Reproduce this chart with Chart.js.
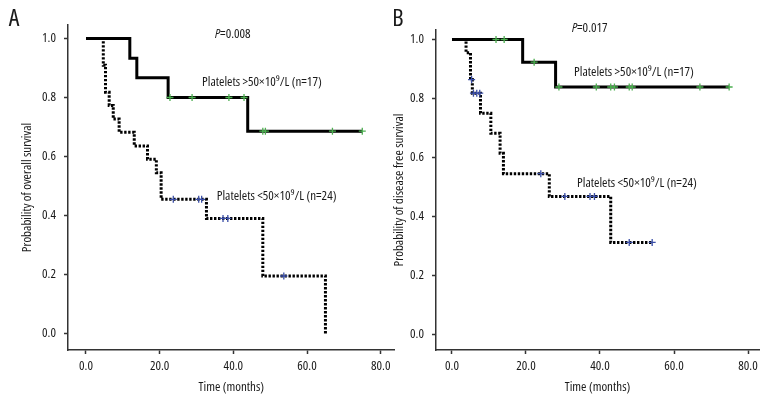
<!DOCTYPE html>
<html>
<head>
<meta charset="utf-8">
<script src="https://cdn.jsdelivr.net/npm/chart.js@4.4.0/dist/chart.umd.min.js"></script>
<style>
  body { margin: 0; background: #fff; }
  #wrap { position: relative; width: 780px; height: 420px; }
  .pane { position: absolute; top: 0; width: 400px; height: 420px; }
</style>
</head>
<body>
<div id="wrap">
  <div class="pane" style="left:0"><canvas id="chartA"></canvas></div>
  <div class="pane" style="left:380px"><canvas id="chartB"></canvas></div>
</div>
<script>
// tick labels
var xTicks = [0, 20, 40, 60, 80];
var yTicks = [0, 0.2, 0.4, 0.6, 0.8, 1.0];

// Panel A - overall survival
var aHighTimes = [0, 11.9, 13.8, 22.3, 43.9, 75.0];
var aHighSurv  = [1, 0.933, 0.867, 0.800, 0.686, 0.686];
var aHighCensT = [22.8, 28.8, 38.8, 42.9, 48.0, 48.7, 66.9, 75.0];
var aHighCensS = [0.800, 0.800, 0.800, 0.800, 0.686, 0.686, 0.686, 0.686];

var aLowTimes = [0, 4.7, 5.3, 6.3, 7.4, 9.0, 13.1, 16.7, 19.1, 20.4, 32.7, 48.0, 65.0];
var aLowSurv  = [1, 0.909, 0.818, 0.773, 0.727, 0.682, 0.636, 0.591, 0.545, 0.455, 0.390, 0.195, 0];
var aLowCensT = [23.7, 30.6, 31.4, 37.2, 38.5, 53.7];
var aLowCensS = [0.455, 0.455, 0.455, 0.390, 0.390, 0.195];

// Panel B - disease free survival
var bHighTimes = [0, 19.1, 28.0, 74.9];
var bHighSurv  = [1, 0.923, 0.839, 0.839];
var bHighCensT = [11.9, 14.1, 22.2, 28.9, 39.0, 42.9, 43.9, 47.9, 48.7, 67.0, 74.9];
var bHighCensS = [1, 1, 0.923, 0.839, 0.839, 0.839, 0.839, 0.839, 0.839, 0.839, 0.839];

var bLowTimes = [0, 3.8, 5.0, 5.5, 7.7, 10.5, 13.0, 13.9, 26.3, 42.9, 54.1];
var bLowSurv  = [1, 0.955, 0.864, 0.818, 0.750, 0.682, 0.614, 0.545, 0.468, 0.312, 0.312];
var bLowCensT = [5.3, 5.8, 6.7, 7.5, 24.0, 30.5, 37.3, 38.5, 47.9, 54.1];
var bLowCensS = [0.864, 0.818, 0.818, 0.818, 0.545, 0.468, 0.468, 0.468, 0.312, 0.312];

var FAMILY = "'Open Sans', 'Roboto Condensed', sans-serif";
var INK = '#1a1a1a';

function pts(xs, ys) {
  var out = [];
  for (var i = 0; i < xs.length; i++) out.push({x: xs[i], y: ys[i]});
  return out;
}

// draws panel letter, p-value and group labels
var labelPlugin = {
  id: 'kmLabels',
  afterDraw: function(chart) {
    var o = chart.options.plugins.kmLabels;
    var ctx = chart.ctx;
    var xs = chart.scales.x, ys = chart.scales.y;
    ctx.save();
    ctx.fillStyle = INK;
    ctx.textBaseline = 'middle';
    ctx.textAlign = 'center';
    ctx.font = "condensed 24px " + FAMILY;
    ctx.fillText(o.letter, o.letterX, 19);

    ctx.textAlign = 'left';
    var px = xs.getPixelForValue(o.pAt[0]), py = ys.getPixelForValue(o.pAt[1]);
    ctx.font = "italic condensed 13px " + FAMILY;
    ctx.fillText('P', px, py);
    var w = ctx.measureText('P').width;
    ctx.font = "condensed 13px " + FAMILY;
    ctx.fillText('=' + o.pText, px + w, py);

    o.groups.forEach(function(g) {
      ctx.fillText(g.text, xs.getPixelForValue(g.at[0]), ys.getPixelForValue(g.at[1]));
    });
    ctx.restore();
  }
};

function makeKM(id, cfg) {
  // lower order is drawn on top: censor marks, then solid curve, then dotted curve
  var datasets = [
    {type: 'scatter', order: 0, data: pts(cfg.hiCT, cfg.hiCS), pointStyle: 'cross', pointRadius: 3.5,
     pointBorderWidth: 1.3, borderColor: '#4caf50', backgroundColor: '#4caf50', showLine: false},
    {type: 'scatter', order: 0, data: pts(cfg.loCT, cfg.loCS), pointStyle: 'cross', pointRadius: 3.5,
     pointBorderWidth: 1.3, borderColor: '#3b4fa8', backgroundColor: '#3b4fa8', showLine: false},
    {order: 1, data: pts(cfg.hiT, cfg.hiS), stepped: 'before', borderColor: '#000', borderWidth: 3,
     pointRadius: 0, fill: false},
    {order: 2, data: pts(cfg.loT, cfg.loS), stepped: 'before', borderColor: '#000', borderWidth: 3,
     borderDash: [2.4, 1.6], borderCapStyle: 'butt', pointRadius: 0, fill: false}
  ];

  // weight slot carries the font-stretch keyword
  var tickFont = {family: FAMILY, size: 13, weight: 'condensed'};
  var config = {
    type: 'line',
    data: {datasets: datasets},
    options: {
      responsive: false,
      animation: false,
      layout: {padding: {left: 0, right: cfg.padRight, top: cfg.top, bottom: 0}},
      plugins: {
        legend: {display: false},
        tooltip: {enabled: false},
        kmLabels: cfg.labels
      },
      scales: {
        x: {
          type: 'linear',
          min: cfg.xMin, max: cfg.xMax,
          afterBuildTicks: function(s) { s.ticks = xTicks.map(function(v) { return {value: v}; }); },
          afterFit: function(s) { s.height = 70; },
          grid: {drawOnChartArea: false, drawTicks: true, tickLength: 4, tickColor: '#333', tickWidth: 1.5},
          border: {display: true, color: '#333', width: 1.5},
          ticks: {color: INK, font: tickFont, padding: 4, maxRotation: 0,
                  callback: function(v) { return Number(v).toFixed(1); }},
          title: {display: true, text: 'Time (months)', color: INK, font: tickFont,
                  padding: {top: 4, bottom: 25}}
        },
        y: {
          // bounds chosen so that 1.0 lands on a pixel centre (crisp overlap of the two curves)
          min: cfg.yMin, max: cfg.yMax,
          afterBuildTicks: function(s) { s.ticks = yTicks.map(function(v) { return {value: v}; }); },
          afterFit: function(s) { s.width = cfg.yWidth; },
          grid: {drawOnChartArea: false, drawTicks: true, tickLength: 4, tickColor: '#333', tickWidth: 1.5},
          border: {display: true, color: '#333', width: 1.5},
          ticks: {color: INK, font: tickFont, padding: 8,
                  callback: function(v) { return Number(v).toFixed(1); }},
          title: {display: true, text: cfg.yTitle, color: INK, font: tickFont,
                  padding: {top: cfg.titlePad, bottom: 0}}
        }
      }
    },
    plugins: [labelPlugin]
  };
  var canvas = document.getElementById(id);
  canvas.width = 400;
  canvas.height = 420;
  return new Chart(canvas, config);
}

makeKM('chartA', {
  hiT: aHighTimes, hiS: aHighSurv, hiCT: aHighCensT, hiCS: aHighCensS,
  loT: aLowTimes, loS: aLowSurv, loCT: aLowCensT, loCS: aLowCensS,
  xMin: -4.88, xMax: 83.8, yMin: -0.055932, yMax: 1.045763,
  yWidth: 68, padRight: 5, top: 25, titlePad: 19,
  yTitle: 'Probability of overall survival',
  labels: {letter: 'A', letterX: 14, pAt: [35, 1.015], pText: '0.008',
    groups: [{text: 'Platelets >50×10⁹/L (n=17)', at: [31.5, 0.851]},
             {text: 'Platelets <50×10⁹/L (n=24)', at: [35.5, 0.464]}]}
});

makeKM('chartB', {
  hiT: bHighTimes, hiS: bHighSurv, hiCT: bHighCensT, hiCS: bHighCensS,
  loT: bLowTimes, loS: bLowSurv, loCT: bLowCensT, loCS: bLowCensS,
  xMin: -4.32, xMax: 82.97, yMin: -0.05255, yMax: 1.03220,
  yWidth: 56, padRight: 21, top: 30, titlePad: 11,
  yTitle: 'Probability of disease free survival',
  labels: {letter: 'B', letterX: 18, pAt: [32.4, 1.037], pText: '0.017',
    groups: [{text: 'Platelets >50×10⁹/L (n=17)', at: [33.0, 0.888]},
             {text: 'Platelets <50×10⁹/L (n=24)', at: [33.8, 0.512]}]}
});
</script>
</body>
</html>
